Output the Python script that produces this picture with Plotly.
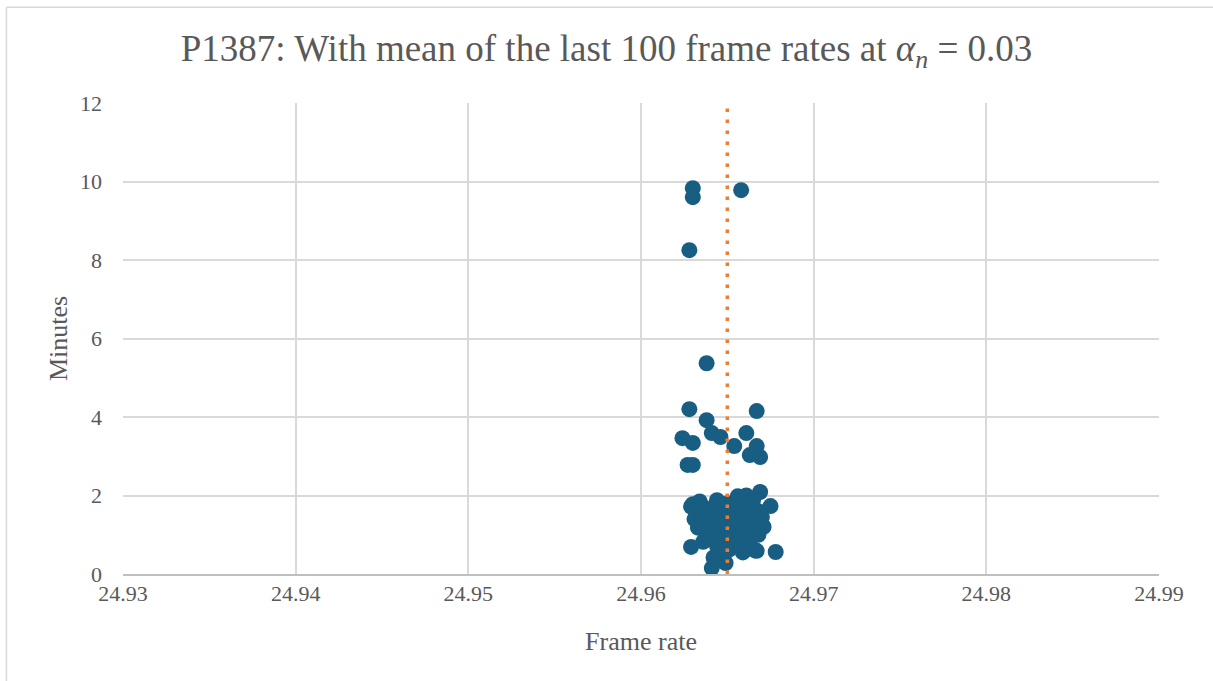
import plotly.graph_objects as go

# Frame-rate vs duration data (frames/s, minutes)
frame_rate = [
    24.9630, 24.9630, 24.9658, 24.9628, 24.9638, 24.9628, 24.9667, 24.9638,
    24.9624, 24.9630, 24.9641, 24.9646, 24.9661, 24.9654, 24.9667, 24.9663,
    24.9669, 24.9627, 24.9630, 24.9669, 24.9675, 24.9678, 24.9629, 24.9641,
    24.9649, 24.9667, 24.9634, 24.9656, 24.9629,
    24.9630, 24.9632, 24.9631, 24.9634, 24.9636, 24.9635, 24.9637, 24.9633,
    24.9638, 24.9636, 24.9639, 24.9640, 24.9641, 24.9640, 24.9642, 24.9643,
    24.9644, 24.9645, 24.9643, 24.9646, 24.9644, 24.9642, 24.9645, 24.9647,
    24.9648, 24.9649, 24.9648, 24.9650, 24.9651, 24.9650, 24.9652, 24.9651,
    24.9653, 24.9654, 24.9655, 24.9654, 24.9656, 24.9657, 24.9658, 24.9656,
    24.9658, 24.9657, 24.9659, 24.9660, 24.9661, 24.9662, 24.9660, 24.9662,
    24.9661, 24.9663, 24.9664, 24.9665, 24.9664, 24.9663, 24.9666, 24.9667,
    24.9668, 24.9666, 24.9669, 24.9670, 24.9671, 24.9668, 24.9641, 24.9647,
    24.9653, 24.9659, 24.9635, 24.9639, 24.9646, 24.9652, 24.9655, 24.9662,
    24.9649, 24.9644, 24.9638,
]
minutes = [
    9.83, 9.60, 9.78, 8.25, 5.37, 4.20, 4.15, 3.92,
    3.46, 3.34, 3.59, 3.49, 3.59, 3.26, 3.26, 3.03,
    2.98, 2.78, 2.78, 2.09, 1.73, 0.56, 0.69, 0.15,
    0.28, 0.59, 1.82, 1.98, 1.72,
    1.78, 1.55, 1.40, 1.85, 1.70, 1.25, 1.10, 1.18,
    0.95, 0.82, 1.60, 1.45, 1.30, 1.05, 0.88, 1.75,
    1.88, 1.55, 1.20, 1.00, 0.72, 0.42, 0.48, 1.68,
    1.35, 1.15, 0.90, 1.80, 1.50, 1.25, 0.80, 0.62,
    1.62, 1.40, 1.10, 0.95, 1.85, 1.95, 1.70, 1.30,
    1.05, 0.70, 0.55, 1.55, 2.00, 1.80, 1.20, 0.95,
    0.65, 1.40, 1.65, 1.90, 1.10, 0.85, 1.50, 1.25,
    1.60, 0.60, 1.35, 1.45, 1.20, 1.00, 1.62, 1.40,
    1.30, 1.45, 1.50, 1.35, 1.25, 1.05, 0.75, 1.10,
    0.62, 1.00, 1.45,
]
mean_rate = 24.965

x_ticks = [24.93, 24.94, 24.95, 24.96, 24.97, 24.98, 24.99]
y_ticks = [0, 2, 4, 6, 8, 10, 12]

FONT = "Liberation Serif, Times New Roman, serif"
TEXT = "#595959"
GRID = "#D9D9D9"

fig = go.Figure()
fig.add_trace(go.Scatter(
    x=frame_rate, y=minutes, mode="markers",
    marker=dict(size=16, color="#175E82", line=dict(width=0)),
    showlegend=False, cliponaxis=False,
))

# mean frame rate marker line
fig.add_shape(type="line", xref="x", yref="y",
              x0=mean_rate, x1=mean_rate, y0=y_ticks[0], y1=y_ticks[-1],
              line=dict(color="#ED7D31", width=3.5, dash="3.5px,7.5px"),
              layer="above")

# chart-area border (top and left edges)
fig.add_shape(type="line", xref="paper", yref="paper",
              x0=-0.1125, x1=1.06, y0=1.2035, y1=1.2035,
              line=dict(color=GRID, width=1.5))
fig.add_shape(type="line", xref="paper", yref="paper",
              x0=-0.1125, x1=-0.1125, y0=-0.23, y1=1.2035,
              line=dict(color=GRID, width=1.5))

fig.update_layout(
    width=1213, height=681,
    margin=dict(l=123, r=54, t=103, b=107),
    paper_bgcolor="white", plot_bgcolor="white",
    font=dict(family=FONT, color=TEXT, size=22),
    title=dict(
        text="P1387: With mean of the last 100 frame rates at <i>α</i><sub><i>n</i></sub> = 0.03",
        x=0.5, xanchor="center", y=0.93, yanchor="middle",
        font=dict(family=FONT, size=37, color=TEXT),
    ),
    xaxis=dict(
        range=[x_ticks[0], x_ticks[-1]], tickvals=x_ticks,
        ticktext=[f"{v:.2f}" for v in x_ticks],
        showgrid=True, gridcolor=GRID, gridwidth=1.5,
        zeroline=False, showline=True, linecolor="#BFBFBF", linewidth=1.5,
        ticks="", ticklabelstandoff=-1,
        tickfont=dict(family=FONT, size=22, color=TEXT),
        title=dict(text="Frame rate", standoff=27,
                   font=dict(family=FONT, size=26, color=TEXT)),
    ),
    yaxis=dict(
        range=[y_ticks[0], y_ticks[-1]], tickvals=y_ticks,
        showgrid=True, gridcolor=GRID, gridwidth=1.5,
        zeroline=False, showline=False,
        ticks="", ticklabelstandoff=20,
        tickfont=dict(family=FONT, size=22, color=TEXT),
        title=dict(text="Minutes", standoff=4,
                   font=dict(family=FONT, size=26, color=TEXT)),
    ),
)

fig.write_html("out.html")
